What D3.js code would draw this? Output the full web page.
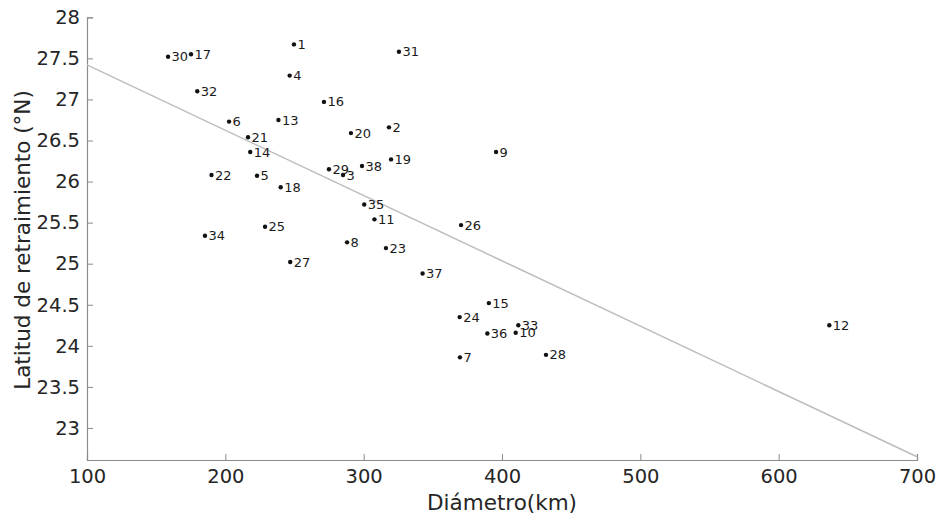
<!DOCTYPE html>
<html>
<head>
<meta charset="utf-8">
<script src="https://cdn.jsdelivr.net/npm/d3@7"></script>
<style>
  body { margin: 0; background: #fff; }
  svg { display: block; font-family: "DejaVu Sans", sans-serif; }
</style>
</head>
<body>
<svg id="chart" width="940" height="516"></svg>
<script>
// ---- data ----
const ids = [1,2,3,4,5,6,7,8,9,10,11,12,13,14,15,16,17,18,19,20,21,22,23,24,25,26,27,28,29,30,31,32,33,34,35,36,37,38];
const diameter = [249.6,318.3,285.1,246.5,222.9,202.7,369.6,288.0,395.7,409.9,307.8,636.6,238.4,218.0,390.5,271.3,175.2,240.0,319.8,290.8,216.4,190.0,316.1,369.4,228.7,370.4,246.9,431.8,274.9,158.6,325.5,179.7,411.8,185.3,300.4,389.4,342.6,298.8];
const latitude = [27.67,26.66,26.08,27.29,26.07,26.73,23.86,25.26,26.36,24.16,25.54,24.25,26.75,26.36,24.52,26.97,27.55,25.93,26.27,26.59,26.54,26.08,25.19,24.35,25.45,25.47,25.02,23.89,26.15,27.52,27.58,27.10,24.25,25.34,25.72,24.15,24.88,26.19];
const fitX = [100, 700];
const fitY = [27.42, 22.65];
const xTicks = [100,200,300,400,500,600,700];
const yTicks = [23,23.5,24,24.5,25,25.5,26,26.5,27,27.5,28];

// ---- layout ----
const svg = d3.select("#chart");
const m = {left: 87, right: 23, top: 17.3, bottom: 56};
const W = 940, H = 516;
const x = d3.scaleLinear().domain([100, 700]).range([m.left, W - m.right]);
const y = d3.scaleLinear().domain([22.61, 28]).range([H - m.bottom, m.top]);

// axes
const axisColor = "#8c8c8c";
const textColor = "#262626";
const gx = svg.append("g").attr("transform", `translate(0,${H - m.bottom})`)
  .call(d3.axisBottom(x).tickValues(xTicks).tickSize(-6).tickPadding(12).tickFormat(d3.format("d")));
const gy = svg.append("g").attr("transform", `translate(${m.left},0)`)
  .call(d3.axisLeft(y).tickValues(yTicks).tickSize(-6).tickPadding(7).tickFormat(d => d));
[gx, gy].forEach(g => {
  g.select(".domain").attr("stroke", axisColor).attr("stroke-width", 1.2);
  g.selectAll(".tick line").attr("stroke", axisColor);
  g.selectAll(".tick text").attr("fill", textColor).style("font-size", "19.5px").style("font-family", "DejaVu Sans");
});
gx.selectAll(".tick text").attr("dy", "0.55em");

// fit line
svg.append("line")
  .attr("x1", x(fitX[0])).attr("y1", y(fitY[0]))
  .attr("x2", x(fitX[1])).attr("y2", y(fitY[1]))
  .attr("stroke", "#bdbdbd").attr("stroke-width", 1.5);

// points
const pts = ids.map((id, i) => ({id, d: diameter[i], lat: latitude[i]}));
svg.append("g").selectAll("circle").data(pts).join("circle")
  .attr("cx", p => x(p.d)).attr("cy", p => y(p.lat)).attr("r", 2.2).attr("fill", "#111");
svg.append("g").selectAll("text").data(pts).join("text")
  .attr("x", p => x(p.d) + 3.5).attr("y", p => y(p.lat))
  .attr("dy", "0.35em")
  .attr("fill", "#1a1a1a")
  .style("font-size", "13px")
  .text(p => p.id);

// axis titles
svg.append("text")
  .attr("x", (x(100) + x(700)) / 2).attr("y", 510)
  .attr("text-anchor", "middle").attr("fill", textColor)
  .style("font-size", "21.5px")
  .text("Diámetro(km)");
svg.append("text")
  .attr("transform", `translate(30,${240}) rotate(-90)`)
  .attr("text-anchor", "middle").attr("fill", textColor)
  .style("font-size", "21.5px")
  .text("Latitud de retraimiento (°N)");
</script>
</body>
</html>
